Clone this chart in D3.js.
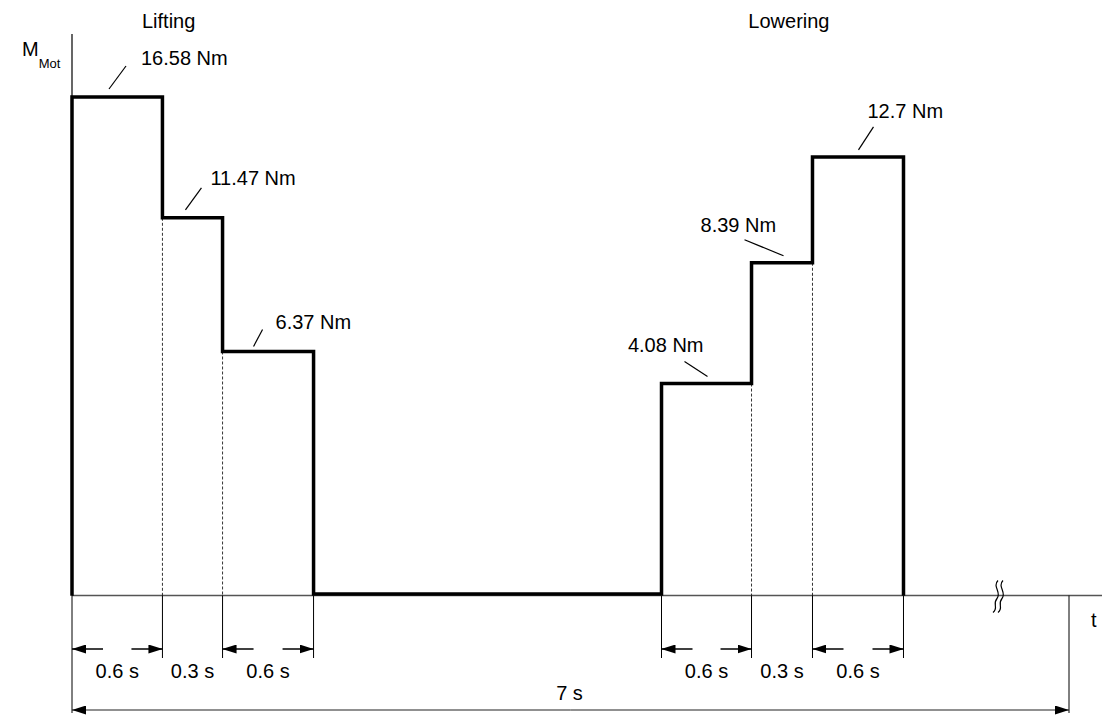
<!DOCTYPE html>
<html>
<head>
<meta charset="utf-8">
<script src="https://cdn.jsdelivr.net/npm/d3@7"></script>
<style>
  html, body { margin: 0; padding: 0; background: #fff; }
  svg { display: block; }
  text { font-family: "Liberation Sans", Arial, sans-serif; fill: #000; }
</style>
</head>
<body>
<svg id="chart" width="1102" height="715"></svg>
<script>
// ---------- DATA ----------
// step start times as drawn (s, schematic)
const stepStart = [0, 0.635, 1.057, 1.696, 4.139, 4.771, 5.199];
const stepEnd   = [0.635, 1.057, 1.696, 4.139, 4.771, 5.199, 5.838];
// drawn height of each step (schematic, Nm-equivalent)
const stepLevel = [16.58, 12.55, 8.09, 0, 7.02, 11.05, 14.58];
// annotated torque labels
const levelLabels = ["16.58 Nm", "11.47 Nm", "6.37 Nm", null, "4.08 Nm", "8.39 Nm", "12.7 Nm"];
// duration labels per step
const durationLabels = ["0.6 s", "0.3 s", "0.6 s", null, "0.6 s", "0.3 s", "0.6 s"];
// which steps get arrow dimension marks
const hasArrows = [true, false, true, false, true, false, true];
const cycleTime = 7;
const cycleLabel = "7 s";
const phaseTitles = ["Lifting", "Lowering"];
const phaseStep = [0, 6];   // step under which the phase title is anchored
const yLabel = "M", ySub = "Mot", xLabel = "t";

// ---------- LAYOUT (styles / offsets) ----------
const W = 1102, H = 715;
const x = d3.scaleLinear().domain([0, cycleTime]).range([72, 1069]);
const y = d3.scaleLinear().domain([0, 16.58]).range([594, 97]);
const FS = 20;
// leader/text offsets relative to each step's left-top corner
const ann = [
  {l: [37, -8, 54, -31], t: [69, -32, "start"]},
  {l: [23, -8, 39, -30], t: [48, -33, "start"]},
  {l: [31, -5, 40, -22], t: [53, -22, "start"]},
  null,
  {l: [23, -22, 46, -7], t: [42, -32, "end"]},
  {l: [-7, -23, 32, -7], t: [-51, -31, "start"]},
  {l: [46, -7, 61, -30], t: [55, -39, "start"]}
];

const svg = d3.select("#chart");
const g = svg.append("g");
const axisY = y(0) + 1.5;
const dimY = 649, dimBottom = 658, totalY = 710, totalBottom = 713;

// arrow marker
const defs = svg.append("defs");
defs.append("marker").attr("id", "ah")
  .attr("viewBox", "0 0 14 9").attr("refX", 14).attr("refY", 4.5)
  .attr("markerWidth", 14).attr("markerHeight", 9)
  .attr("markerUnits", "userSpaceOnUse").attr("orient", "auto")
  .append("path").attr("d", "M0,0 L14,4.5 L0,9 Z").attr("fill", "#000");

// horizontal axis
g.append("line").attr("x1", x(0)).attr("x2", W).attr("y1", axisY).attr("y2", axisY)
  .attr("stroke", "#555").attr("stroke-width", 1.4);
// vertical axis
g.append("line").attr("x1", x(0)).attr("x2", x(0)).attr("y1", 34).attr("y2", axisY)
  .attr("stroke", "#000").attr("stroke-width", 1.2);

// axis break symbol
const bx = 997;
[0, 5].forEach(o => {
  const cx = bx + o;
  g.append("path")
    .attr("d", `M${cx + 1},${axisY - 15} C${cx - 5},${axisY - 9} ${cx + 5},${axisY - 3} ${cx},${axisY + 3} C${cx - 5},${axisY + 9} ${cx + 2},${axisY + 12} ${cx - 4},${axisY + 17}`)
    .attr("fill", "none").attr("stroke", "#000").attr("stroke-width", 1.2);
});

// dashed internal lines (inner step boundaries)
stepStart.forEach((s, i) => {
  if (i === 0 || stepLevel[i] === 0 || stepLevel[i - 1] === 0) return;
  g.append("line").attr("x1", x(s)).attr("x2", x(s))
    .attr("y1", y(Math.min(stepLevel[i], stepLevel[i - 1]))).attr("y2", axisY)
    .attr("stroke", "#000").attr("stroke-width", 0.8).attr("stroke-dasharray", "3,2");
});

// profile line
const pts = [[x(stepStart[0]), y(0)]];
stepStart.forEach((s, i) => {
  pts.push([x(s), y(stepLevel[i])]);
  pts.push([x(stepEnd[i]), y(stepLevel[i])]);
});
pts.push([x(stepEnd[stepEnd.length - 1]), y(0)]);
g.append("path").attr("d", d3.line()(pts))
  .attr("fill", "none").attr("stroke", "#000").attr("stroke-width", 3.5)
  .attr("stroke-linejoin", "miter").attr("stroke-linecap", "square");

// level labels and leader lines
levelLabels.forEach((lab, i) => {
  if (!lab) return;
  const x0 = x(stepStart[i]), y0 = y(stepLevel[i]), a = ann[i];
  g.append("line").attr("x1", x0 + a.l[0]).attr("y1", y0 + a.l[1])
    .attr("x2", x0 + a.l[2]).attr("y2", y0 + a.l[3])
    .attr("stroke", "#000").attr("stroke-width", 1.2);
  g.append("text").attr("x", x0 + a.t[0]).attr("y", y0 + a.t[1])
    .attr("text-anchor", a.t[2]).attr("font-size", FS).text(lab);
});

// dimension extension lines
const edges = new Set();
durationLabels.forEach((lab, i) => { if (lab) { edges.add(stepStart[i]); edges.add(stepEnd[i]); } });
edges.forEach(t => {
  const outer = (t === 0);
  g.append("line").attr("x1", x(t)).attr("x2", x(t)).attr("y1", axisY)
    .attr("y2", outer ? totalBottom : dimBottom)
    .attr("stroke", "#000").attr("stroke-width", 1);
});
g.append("line").attr("x1", x(cycleTime)).attr("x2", x(cycleTime)).attr("y1", axisY)
  .attr("y2", totalBottom).attr("stroke", "#000").attr("stroke-width", 1);

// duration arrows & labels
durationLabels.forEach((lab, i) => {
  if (!lab) return;
  const a = x(stepStart[i]), b = x(stepEnd[i]);
  if (hasArrows[i]) {
    g.append("line").attr("x1", a + 31).attr("x2", a).attr("y1", dimY).attr("y2", dimY)
      .attr("stroke", "#000").attr("stroke-width", 1.5).attr("marker-end", "url(#ah)");
    g.append("line").attr("x1", b - 31).attr("x2", b).attr("y1", dimY).attr("y2", dimY)
      .attr("stroke", "#000").attr("stroke-width", 1.5).attr("marker-end", "url(#ah)");
  }
  g.append("text").attr("x", (a + b) / 2).attr("y", 678).attr("text-anchor", "middle")
    .attr("font-size", FS).text(lab);
});

// total cycle arrow
g.append("line").attr("x1", x(cycleTime / 2)).attr("x2", x(0)).attr("y1", totalY).attr("y2", totalY)
  .attr("stroke", "#222").attr("stroke-width", 1.2).attr("marker-end", "url(#ah)");
g.append("line").attr("x1", x(cycleTime / 2)).attr("x2", x(cycleTime)).attr("y1", totalY).attr("y2", totalY)
  .attr("stroke", "#222").attr("stroke-width", 1.2).attr("marker-end", "url(#ah)");
g.append("text").attr("x", x(cycleTime / 2) - 1).attr("y", 700).attr("text-anchor", "middle")
  .attr("font-size", FS).text(cycleLabel);

// phase titles
g.append("text").attr("x", x(stepStart[phaseStep[0]]) + 70).attr("y", 28)
  .attr("font-size", FS).text(phaseTitles[0]);
g.append("text").attr("x", x(stepEnd[phaseStep[1]]) - 74).attr("y", 28)
  .attr("text-anchor", "end").attr("font-size", FS).text(phaseTitles[1]);

// axis labels
const yl = g.append("text").attr("x", 22).attr("y", 56).attr("font-size", FS);
yl.append("tspan").text(yLabel);
yl.append("tspan").attr("font-size", 13).attr("dy", 12).text(ySub);
g.append("text").attr("x", 1091).attr("y", 627).attr("font-size", FS).text(xLabel);
</script>
</body>
</html>
